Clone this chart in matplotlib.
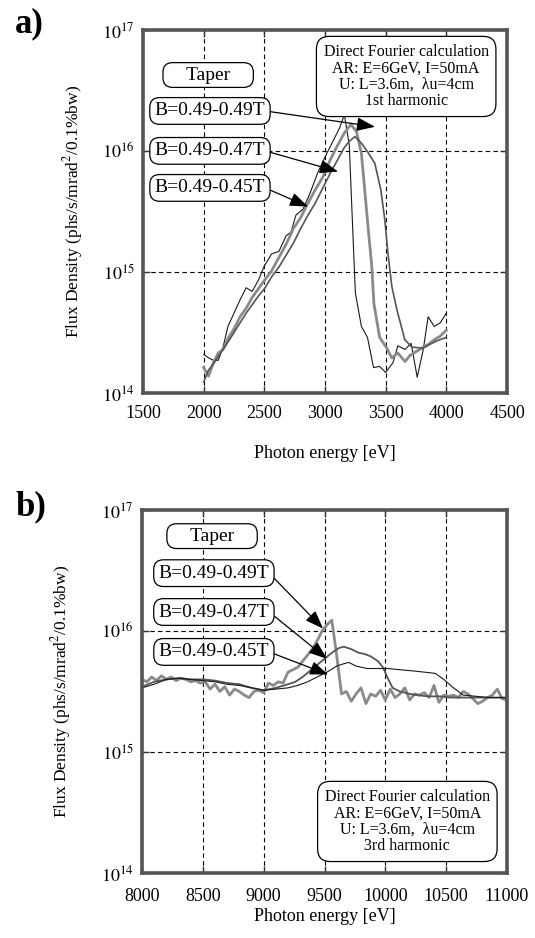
import matplotlib
matplotlib.use("Agg")
import matplotlib.pyplot as plt
import numpy as np

plt.rcParams['font.family'] = ['Liberation Serif', 'DejaVu Serif']
plt.rcParams['mathtext.fontset'] = 'stix'

# ---------------- Panel a data (1st harmonic) ----------------
a_E1 = [2000, 2040, 2080, 2120, 2160, 2200, 2250, 2300, 2350, 2400, 2450, 2500,
        2560, 2620, 2680, 2720, 2760, 2820, 2880, 2940, 3000, 3060, 3120, 3160,
        3200, 3250, 3300, 3350, 3400, 3450, 3500, 3560, 3600, 3660, 3710, 3760,
        3810, 3850, 3900, 3950, 4000]
a_L1 = [14.32, 14.29, 14.27, 14.27, 14.38, 14.55, 14.66, 14.77, 14.87, 14.84, 14.93, 15.05,
        15.15, 15.17, 15.30, 15.33, 15.47, 15.52, 15.66, 15.82, 15.95, 16.07, 16.19, 16.30,
        16.05, 14.83, 14.55, 14.46, 14.21, 14.22, 14.17, 14.25, 14.39, 14.36, 14.41, 14.13,
        14.36, 14.63, 14.55, 14.58, 14.66]

a_E2 = [2000, 2040, 2080, 2120, 2160, 2200, 2250, 2300, 2350, 2400, 2450, 2500,
        2560, 2620, 2680, 2740, 2800, 2860, 2920, 2980, 3040, 3100, 3160, 3213,
        3260, 3300, 3330, 3355, 3386, 3403, 3450, 3510, 3550, 3600, 3660, 3700,
        3780, 3850, 3900, 3950, 4000]
a_L2 = [14.21, 14.14, 14.25, 14.33, 14.36, 14.45, 14.53, 14.63, 14.70, 14.79, 14.86, 14.93,
        15.01, 15.12, 15.23, 15.36, 15.45, 15.57, 15.68, 15.78, 15.92, 16.04, 16.15, 16.22,
        16.16, 15.98, 15.65, 15.37, 15.04, 14.74, 14.46, 14.37, 14.29, 14.33, 14.26, 14.31,
        14.36, 14.40, 14.44, 14.47, 14.52]

a_E3 = [2000, 2040, 2080, 2120, 2160, 2200, 2250, 2300, 2350, 2400, 2450, 2500,
        2560, 2620, 2680, 2740, 2800, 2860, 2920, 2980, 3040, 3100, 3160, 3200,
        3247, 3304, 3353, 3410, 3460, 3493, 3518, 3551, 3592, 3658, 3715, 3806,
        3860, 3920, 4000]
a_L3 = [14.09, 14.19, 14.24, 14.30, 14.36, 14.42, 14.50, 14.58, 14.66, 14.73, 14.80, 14.86,
        14.96, 15.04, 15.14, 15.24, 15.36, 15.47, 15.57, 15.69, 15.81, 15.92, 16.03, 16.08,
        16.12, 16.06, 15.99, 15.90, 15.68, 15.43, 15.16, 14.88, 14.69, 14.44, 14.38, 14.37,
        14.40, 14.43, 14.46]

# ---------------- Panel b data (3rd harmonic) ----------------
b_E1 = [8000, 8040, 8080, 8120, 8160, 8200, 8240, 8280, 8320, 8360, 8400, 8440,
        8480, 8520, 8560, 8600, 8640, 8680, 8720, 8760, 8800, 8840, 8880, 8920,
        8960, 9000, 9040, 9080, 9120, 9160, 9200, 9240, 9280, 9320, 9360, 9400,
        9440, 9480, 9520, 9560, 9600, 9640, 9680, 9720, 9760, 9800, 9840, 9880,
        9920, 9960, 10000, 10040, 10080, 10120, 10160, 10200, 10240, 10280, 10320,
        10360, 10400, 10440, 10480, 10520, 10560, 10600, 10640, 10680, 10720, 10760,
        10800, 10840, 10880, 10920, 10960, 11000]
b_L1 = [15.60, 15.58, 15.62, 15.59, 15.63, 15.60, 15.62, 15.59, 15.61, 15.60, 15.58, 15.59,
        15.57, 15.58, 15.52, 15.56, 15.50, 15.54, 15.47, 15.52, 15.50, 15.47, 15.45, 15.50,
        15.51, 15.49, 15.57, 15.55, 15.58, 15.57, 15.66, 15.68, 15.70, 15.75, 15.80, 15.85,
        15.92, 16.00, 16.05, 16.09, 15.80, 15.48, 15.50, 15.42, 15.48, 15.53, 15.40, 15.48,
        15.46, 15.51, 15.43, 15.52, 15.45, 15.48, 15.53, 15.43, 15.48, 15.47, 15.49,
        15.45, 15.55, 15.41, 15.47, 15.46, 15.47, 15.45, 15.50, 15.48, 15.44, 15.40,
        15.42, 15.45, 15.47, 15.52, 15.44, 15.43]

b_E2 = [8000, 8100, 8200, 8300, 8400, 8500, 8600, 8700, 8800, 8900, 9000, 9100,
        9200, 9260, 9320, 9380, 9440, 9500, 9560, 9620, 9660, 9720, 9780, 9830,
        9880, 9940, 9980, 10020, 10060, 10120, 10200, 10260, 10350, 10450, 10530,
        10650, 10800, 10900, 11000]
b_L2 = [15.54, 15.58, 15.60, 15.61, 15.60, 15.60, 15.59, 15.57, 15.56, 15.53, 15.51, 15.53,
        15.56, 15.58, 15.62, 15.67, 15.72, 15.77, 15.82, 15.86, 15.87, 15.85, 15.82, 15.81,
        15.79, 15.75, 15.70, 15.61, 15.53, 15.50, 15.48, 15.47, 15.46, 15.46, 15.45,
        15.45, 15.45, 15.45, 15.45]

b_E3 = [8000, 8100, 8200, 8300, 8400, 8500, 8600, 8700, 8800, 8900, 9000, 9100,
        9200, 9280, 9360, 9440, 9520, 9600, 9660, 9700, 9760, 9850, 9950, 10020,
        10120, 10230, 10320, 10410, 10480, 10560, 10640, 10750, 10850, 10950, 11000]
b_L3 = [15.53, 15.56, 15.60, 15.61, 15.60, 15.59, 15.58, 15.56, 15.55, 15.53, 15.51, 15.52,
        15.53, 15.55, 15.58, 15.62, 15.66, 15.71, 15.73, 15.74, 15.71, 15.69, 15.69, 15.69,
        15.68, 15.67, 15.66, 15.65, 15.60, 15.53, 15.47, 15.46, 15.45, 15.45, 15.45]

labels = ["B=0.49-0.49T", "B=0.49-0.47T", "B=0.49-0.45T"]
info_a = "Direct Fourier calculation\nAR: E=6GeV, I=50mA\nU: L=3.6m,  λu=4cm\n1st harmonic"
info_b = "Direct Fourier calculation\nAR: E=6GeV, I=50mA\nU: L=3.6m,  λu=4cm\n3rd harmonic"
ylabel = "Flux Density (phs/s/mrad$^2$/0.1%bw)"
xlabel = "Photon energy [eV]"

W, H = 535, 938
fig = plt.figure(figsize=(W / 100, H / 100), dpi=100)

def px_axes(l, t, r, b):
    return fig.add_axes([l / W, 1 - b / H, (r - l) / W, (b - t) / H])

axa = px_axes(143, 30, 507, 393)
axb = px_axes(142, 510, 507, 873)

def style(ax, xlim, xticks, xpad, xlabpad, ylabpad):
    ax.set_yscale('log')
    ax.set_ylim(1e14, 1e17)
    ax.set_xlim(*xlim)
    ax.set_xticks(xticks)
    ax.set_yticks([1e14, 1e15, 1e16, 1e17])
    ax.yaxis.set_minor_locator(matplotlib.ticker.NullLocator())
    ax.set_yticklabels([r'$10^{14}$', r'$10^{15}$', r'$10^{16}$', r'$10^{17}$'])
    ax.set_xticklabels([str(v) for v in xticks])
    for s in ax.spines.values():
        s.set_linewidth(2.6)
        s.set_color('#555555')
    ax.grid(True, which='major', linestyle=(0, (4, 3)), color='black', linewidth=0.8)
    ax.tick_params(direction='in', length=5, width=1, color='#333333', top=True, right=True,
                   labelsize=13)
    ax.tick_params(axis='x', pad=xpad)
    ax.tick_params(axis='y', pad=6)
    ax.set_xlabel(xlabel, fontsize=13, labelpad=xlabpad)
    ax.set_ylabel(ylabel, fontsize=12.5, labelpad=ylabpad)

style(axa, (1500, 4500), [1500, 2000, 2500, 3000, 3500, 4000, 4500], 9, 16, 12)
style(axb, (8000, 11000), [8000, 8500, 9000, 9500, 10000, 10500, 11000], 11, 2, 20)

pw = lambda L: 10.0 ** np.array(L)

axa.plot(a_E1, pw(a_L1), color='#1a1a1a', lw=0.8)
axa.plot(a_E2, pw(a_L2), color='#8a8a8a', lw=2.0)
axa.plot(a_E3, pw(a_L3), color='#555555', lw=1.2)

axb.plot(b_E1, pw(b_L1), color='#8a8a8a', lw=2.0)
axb.plot(b_E2, pw(b_L2), color='#555555', lw=1.3)
axb.plot(b_E3, pw(b_L3), color='#1a1a1a', lw=0.8)

box = dict(boxstyle='round,pad=0.25,rounding_size=0.5', fc='white', ec='black', lw=0.9)

def panel_annot(ax, taper_xy, lab_x, lab_ys, tips, info_xy, info):
    ax.text(taper_xy[0], taper_xy[1], "    Taper    ", transform=ax.transAxes, ha='center',
            va='center', fontsize=14,
            bbox=dict(boxstyle='round,pad=0.2,rounding_size=0.5', fc='white', ec='black', lw=0.9))
    for lab, ly, tip in zip(labels, lab_ys, tips):
        ax.annotate(lab, xy=tip, xycoords='data', xytext=(lab_x, ly), textcoords='axes fraction',
                    ha='center', va='center', fontsize=14, bbox=box,
                    arrowprops=dict(arrowstyle='-|>,head_length=0.8,head_width=0.3',
                                    color='black', lw=0.9, relpos=(1.0, 0.5),
                                    shrinkA=0, shrinkB=0))
    ax.text(info_xy[0], info_xy[1], info, transform=ax.transAxes, ha='center', va='center',
            fontsize=11.5, linespacing=1.05,
            bbox=dict(boxstyle='round,pad=0.45,rounding_size=0.8', fc='white', ec='black', lw=0.9))

panel_annot(axa, (0.179, 0.876), 0.184, [0.777, 0.667, 0.565],
            [(3412, 10 ** 16.20), (3107, 10 ** 15.83), (2860, 10 ** 15.54)],
            (0.723, 0.872), info_a)
panel_annot(axb, (0.192, 0.928), 0.197, [0.826, 0.719, 0.609],
            [(9488, 10 ** 16.02), (9521, 10 ** 15.77), (9530, 10 ** 15.64)],
            (0.727, 0.142), info_b)

fig.text(15 / W, 1 - 24 / H, "a)", fontsize=25, fontweight='bold', ha='left', va='center')
fig.text(15 / W, 1 - 507 / H, "b)", fontsize=25, fontweight='bold', ha='left', va='center')

fig.savefig("out.png", dpi=100)
